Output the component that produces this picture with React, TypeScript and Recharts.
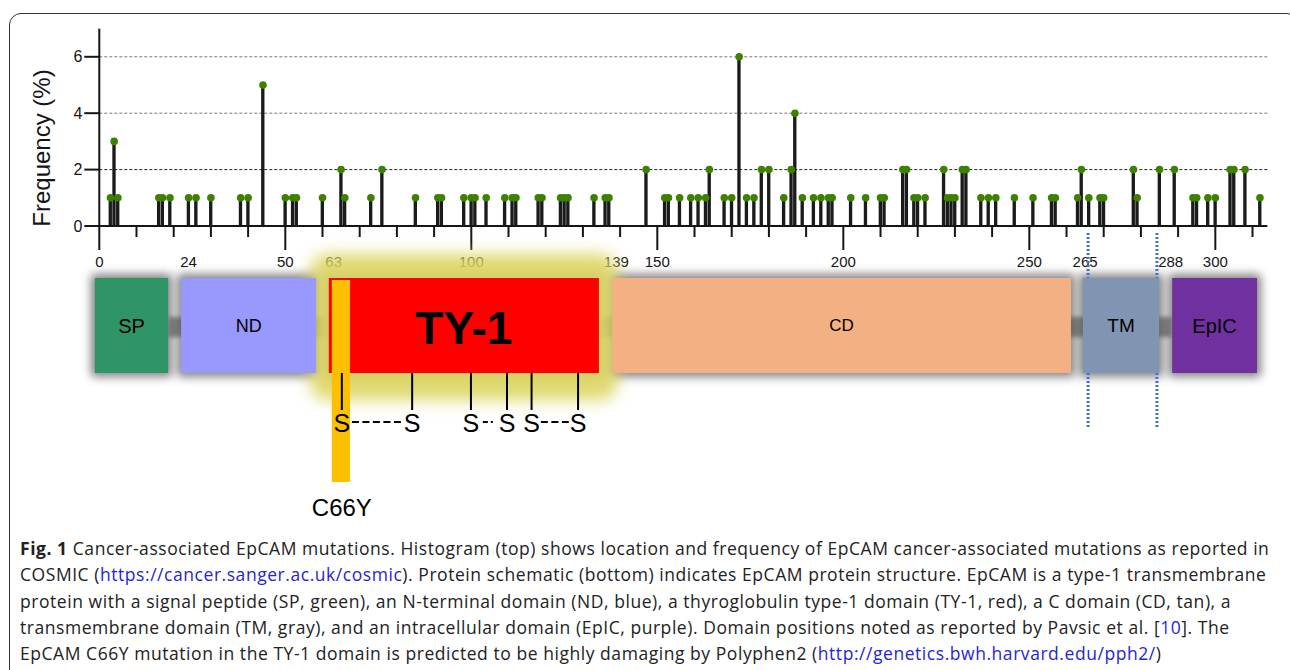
import React from "react";
import {
  ComposedChart, Bar, Scatter, XAxis, YAxis, CartesianGrid,
  ReferenceLine, ReferenceArea,
} from "recharts";

// mutation histogram (residue -> frequency %)
const positions = [
  3, 4, 5, 16, 17, 19, 24, 26, 30, 38, 40, 44, 50, 52, 53, 60, 65, 66, 73, 76,
  85, 91, 92, 98, 100, 101, 104, 109, 111, 112, 118, 119, 124, 125, 126, 133, 136, 137, 147,
  152, 153, 156, 159, 161, 163, 164, 168, 170, 172, 174, 176, 178, 180, 184, 186, 187, 189,
  192, 194, 196, 197, 202, 206, 210, 211, 216, 217, 219, 220, 222,
  227, 228, 229, 230, 232, 233, 237, 239, 241, 246, 251, 256, 257, 263, 264, 266, 269, 270,
  278, 279, 285, 289, 294, 295, 298, 300, 304, 305, 308, 312,
];
const freqs = [
  1, 3, 1, 1, 1, 1, 1, 1, 1, 1, 1, 5, 1, 1, 1, 1, 2, 1, 1, 2,
  1, 1, 1, 1, 1, 1, 1, 1, 1, 1, 1, 1, 1, 1, 1, 1, 1, 1, 2,
  1, 1, 1, 1, 1, 1, 2, 1, 1, 6, 1, 1, 2, 2, 1, 2, 4, 1,
  1, 1, 1, 1, 1, 1, 1, 1, 2, 2, 1, 1, 1,
  2, 1, 1, 1, 2, 2, 1, 1, 1, 1, 1, 1, 1, 1, 2, 1, 1, 1,
  2, 1, 2, 2, 1, 1, 1, 1, 2, 2, 2, 1,
];

const yTicks = [0, 2, 4, 6];
const xTicks = [
  0, 10, 20, 24, 30, 40, 50, 60, 63, 70, 80, 90, 100, 110, 120, 130, 139, 140, 150,
  160, 170, 180, 190, 200, 210, 220, 230, 240, 250, 260, 265, 270, 280, 288, 290, 300, 310,
];
const xLabels = [0, 24, 50, 63, 100, 139, 150, 200, 250, 265, 288, 300];

// protein schematic
const domainNames = ["SP", "ND", "TY-1", "CD", "TM", "EpIC"];
const domainStart = [-1.2, 22, 61.7, 137.8, 264.4, 288.4];
const domainEnd = [18.5, 58.3, 134.3, 261.2, 284.9, 311.2];
const domainColors = ["#2f9466", "#9999fd", "#fe0000", "#f3b083", "#7f95b1", "#7030a0"];
const domainFont = [20, 18, 46, 17, 19, 20];
const cysteines = [65.2, 84.1, 99.9, 109.6, 116.2, 128.7];
const bridgeFrom = [67.9, 103.1, 118.7];
const bridgeTo = [81.1, 105.9, 126.2];
const bridgeDash = ["7 3.5", "5 3 2", "7 3.5"];
const mutationSpan = [62.5, 67.4];
const mutationLabel = "C66Y";
const tmEdges = [265.8, 284.3];

const rows = positions.map((p, i) => ({ pos: p, freq: freqs[i] }));

const FONT = "'Liberation Sans', Arial, Helvetica, sans-serif";
const INK = "#151515";

// schematic track (vertical units, 0 = top of the schematic panel)
const BOX = [48, 143];
const LINK = [87, 107];
const S_ROW = 193;
const LABEL_ROW = 277;

const sulfurs = cysteines.map((c) => ({ pos: c, y: S_ROW }));
const mutLabel = [{ pos: 65.2, y: LABEL_ROW }];

const XTick = ({ x, y, payload }: any) => {
  const v = payload.value;
  const len = v % 50 === 0 ? 24 : v % 10 === 0 ? 11 : 0;
  return (
    <g>
      {len > 0 && <line x1={x} x2={x} y1={y} y2={y + len} stroke={INK} strokeWidth={2} />}
      {xLabels.includes(v) && (
        <text x={x} y={y + 41} textAnchor="middle" fontSize={15} fill={INK}>{v}</text>
      )}
    </g>
  );
};

const Lollipop = (p: any) => <circle cx={p.cx} cy={p.cy} r={3.8} fill="#3d8100" />;
const SLetter = (p: any) => (
  <text x={p.cx} y={p.cy} textAnchor="middle" dominantBaseline="central" fontSize={25} fill="#000">S</text>
);
const MutText = (p: any) => (
  <text x={p.cx} y={p.cy} textAnchor="middle" dominantBaseline="central" fontSize={24} fill="#000">{mutationLabel}</text>
);

export default function App() {
  return (
    <div style={{ position: "absolute", left: 0, top: 0, width: 1290, height: 670, overflow: "hidden", background: "#fff", fontFamily: FONT }}>
      <div style={{ position: "absolute", left: 9, top: 13, width: 1290, height: 700, border: "1.5px solid #333", borderRadius: 12, boxSizing: "border-box" }} />

      <div style={{ position: "absolute", left: 0, top: 0 }}>
        <ComposedChart width={1290} height={290} data={rows} margin={{ top: 28.6, right: 22.6, bottom: 0, left: 19.3 }}>
          <CartesianGrid vertical={false} horizontalValues={[4, 6]} stroke="#777" strokeDasharray="3 2" />
          <CartesianGrid vertical={false} horizontalValues={[2]} stroke="#222" strokeDasharray="3 2" />
          <XAxis dataKey="pos" type="number" domain={[0, 314]} ticks={xTicks} interval={0}
            tick={<XTick />} tickLine={false} tickSize={0} tickMargin={0} height={64}
            axisLine={{ stroke: INK, strokeWidth: 2 }} />
          <YAxis type="number" domain={[0, 7]} ticks={yTicks} width={80} tickSize={15} tickMargin={2}
            tick={{ fontSize: 16, fill: INK }} tickLine={{ stroke: INK, strokeWidth: 2 }}
            axisLine={{ stroke: INK, strokeWidth: 2 }} />
          <Bar dataKey="freq" fill="#1b1b1b" barSize={4} isAnimationActive={false} />
          <Scatter dataKey="freq" shape={Lollipop} isAnimationActive={false} />
        </ComposedChart>
      </div>

      <div style={{ position: "absolute", left: 42, top: 148, transform: "translate(-50%, -50%) rotate(-90deg)", fontSize: 24, color: INK, whiteSpace: "nowrap" }}>
        Frequency (%)
      </div>

      <div style={{ position: "absolute", left: 0, top: 230 }}>
        <ComposedChart width={1290} height={300} margin={{ top: 0, right: 22.6, bottom: 0, left: 99.3 }}>
          <XAxis dataKey="pos" type="number" domain={[0, 314]} allowDataOverflow hide />
          <YAxis dataKey="y" type="number" domain={[0, 300]} allowDataOverflow reversed hide />
          <ReferenceArea x1={domainEnd[0]} x2={domainStart[5]} y1={LINK[0]} y2={LINK[1]} ifOverflow="visible"
            shape={(p: any) => <rect x={p.x} y={p.y} width={p.width} height={p.height} fill="#8a8a8a" style={{ filter: "blur(2px)" }} />} />
          {domainNames.map((d, i) => (
            <ReferenceArea key={"h" + d} x1={domainStart[i]} x2={domainEnd[i]} y1={BOX[0]} y2={BOX[1]} ifOverflow="visible"
              shape={(p: any) => (
                <rect x={p.x - 4} y={p.y - 4} width={p.width + 8} height={p.height + 8} rx={4} fill="#5a5a5a" opacity={0.75}
                  style={{ filter: "blur(5px)" }} />
              )} />
          ))}
          <ReferenceArea x1={56.6} x2={139.4} y1={24} y2={170} ifOverflow="visible"
            shape={(p: any) => <rect x={p.x} y={p.y} width={p.width} height={p.height} rx={18} fill="#ddd562" opacity={0.92} style={{ filter: "blur(8px)" }} />} />
          {tmEdges.map((t) => (
            <ReferenceLine key={"a" + t} segment={[{ x: t, y: 3 }, { x: t, y: BOX[0] }]} stroke="#3f6fd0" strokeWidth={3} strokeDasharray="2 2" ifOverflow="visible" />
          ))}
          {tmEdges.map((t) => (
            <ReferenceLine key={"b" + t} segment={[{ x: t, y: BOX[1] }, { x: t, y: 198 }]} stroke="#3f6fd0" strokeWidth={3} strokeDasharray="2 2" ifOverflow="visible" />
          ))}
          {domainNames.map((d, i) => (
            <ReferenceArea key={d} x1={domainStart[i]} x2={domainEnd[i]} y1={BOX[0]} y2={BOX[1]} ifOverflow="visible"
              shape={(p: any) => (
                <g>
                  <rect x={p.x} y={p.y} width={p.width} height={p.height} fill={domainColors[i]} />
                  <text x={p.x + p.width / 2} y={p.y + p.height / 2 + (i === 2 ? 2 : 0)} textAnchor="middle" dominantBaseline="central"
                    fontSize={domainFont[i]} fontWeight={i === 2 ? 700 : 400} fill="#000">{d}</text>
                </g>
              )} />
          ))}
          <ReferenceArea x1={mutationSpan[0]} x2={mutationSpan[1]} y1={BOX[0] + 2} y2={252} ifOverflow="visible"
            shape={(p: any) => <rect x={p.x} y={p.y} width={p.width} height={p.height} fill="#fdc000" />} />
          {cysteines.map((c) => (
            <ReferenceLine key={"c" + c} segment={[{ x: c, y: BOX[1] }, { x: c, y: 180 }]} stroke="#000" strokeWidth={2} ifOverflow="visible" />
          ))}
          {bridgeFrom.map((b, i) => (
            <ReferenceLine key={"d" + b} segment={[{ x: b, y: 192 }, { x: bridgeTo[i], y: 192 }]} stroke="#000" strokeWidth={2} strokeDasharray={bridgeDash[i]} ifOverflow="visible" />
          ))}
          <Scatter data={sulfurs} dataKey="y" shape={SLetter} isAnimationActive={false} />
          <Scatter data={mutLabel} dataKey="y" shape={MutText} isAnimationActive={false} />
        </ComposedChart>
      </div>

      <div style={{ position: "absolute", left: 20, top: 535, fontFamily: "'Open Sans', sans-serif", fontSize: 17.5, letterSpacing: "0.55px", lineHeight: "26.3px", color: "#222", whiteSpace: "nowrap" }}>
        <b>Fig. 1</b> Cancer-associated EpCAM mutations. Histogram (top) shows location and frequency of EpCAM cancer-associated mutations as reported in<br />
        COSMIC (<span style={{ color: "#2525d6" }}>https://cancer.sanger.ac.uk/cosmic</span>). Protein schematic (bottom) indicates EpCAM protein structure. EpCAM is a type-1 transmembrane<br />
        protein with a signal peptide (SP, green), an N-terminal domain (ND, blue), a thyroglobulin type-1 domain (TY-1, red), a C domain (CD, tan), a<br />
        transmembrane domain (TM, gray), and an intracellular domain (EpIC, purple). Domain positions noted as reported by Pavsic et al. [<span style={{ color: "#2525d6" }}>10</span>]. The<br />
        EpCAM C66Y mutation in the TY-1 domain is predicted to be highly damaging by Polyphen2 (<span style={{ color: "#2525d6" }}>http://genetics.bwh.harvard.edu/pph2/</span>)
      </div>
    </div>
  );
}
